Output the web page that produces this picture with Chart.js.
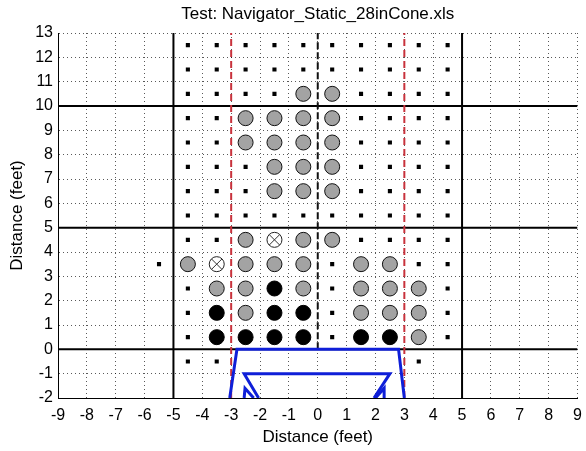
<!DOCTYPE html>
<html>
<head>
<meta charset="utf-8">
<script src="https://cdn.jsdelivr.net/npm/chart.js@4/dist/chart.umd.min.js"></script>
<style>
  body { margin: 0; background: #fff; }
  #wrap { width: 586px; height: 451px; }
</style>
</head>
<body>
<div id="wrap"><canvas id="chart" width="586" height="451"></canvas></div>
<script>
'use strict';

// marker columns (feet) and rows (feet)
var colX = [-5.5, -4.5, -3.5, -2.5, -1.5, -0.5, 0.5, 1.5, 2.5, 3.5, 4.5];
var rowY = [12.5, 11.5, 10.5, 9.5, 8.5, 7.5, 6.5, 5.5, 4.5, 3.5, 2.5, 1.5, 0.5, -0.5];

// s = small square, g = grey circle, b = black circle, x = crossed circle, . = nothing
var rowCodes = [
  '.ssssssssss',
  '.ssssssssss',
  '.ssssggssss',
  '.ssggggssss',
  '.ssggggssss',
  '.sssgggssss',
  '.sssgggssss',
  '.ssssssssss',
  '.ssgxggssss',
  'sgxgggsggss',
  '.sggbgsggg s'.replace(' ', ''),
  '.sbgbbsggg s'.replace(' ', ''),
  '.sbbbbsbbgs',
  '.ss......s.'
];

var xTicks = [-9, -8, -7, -6, -5, -4, -3, -2, -1, 0, 1, 2, 3, 4, 5, 6, 7, 8, 9];
var yTicks = [-2, -1, 0, 1, 2, 3, 4, 5, 6, 7, 8, 9, 10, 11, 12, 13];

var solidVert = [-5, 5];
var solidHoriz = [0, 5, 10];
var redDashX = [-3, 3];
var centerDashX = [0];

// vehicle outline
var blueOuter = [[-3.05, -2], [-2.8, 0], [2.8, 0], [3.0, -2]];
var blueInner = [[-2.05, -2], [-2.55, -1], [2.5, -1], [1.95, -2]];
var blueLeftMark = [[-2.55, -2], [-2.52, -1.6], [-2.22, -2]];
var blueRightMark = [[2.0, -2], [2.3, -1.6], [2.3, -2]];

var titleText = 'Test: Navigator_Static_28inCone.xls';

var squares = [], greys = [], blacks = [], crossed = [];
for (var r = 0; r < rowY.length; r++) {
  for (var c = 0; c < colX.length; c++) {
    var code = rowCodes[r].charAt(c);
    var p = {x: colX[c], y: rowY[r]};
    if (code === 's') squares.push(p);
    else if (code === 'g') greys.push(p);
    else if (code === 'b') blacks.push(p);
    else if (code === 'x') crossed.push(p);
  }
}

function pts(arr) {
  return arr.map(function (a) { return {x: a[0], y: a[1]}; });
}

var datasets = [];

function lineSet(data, color, width, dash, order) {
  datasets.push({
    data: data, showLine: true, borderColor: color, borderWidth: width,
    borderDash: dash, pointRadius: 0, fill: false, order: order
  });
}

// blue outline on top
[blueOuter, blueInner, blueLeftMark, blueRightMark].forEach(function (l) {
  lineSet(pts(l), '#0f1fd8', 3, [], 0);
});

datasets.push({data: squares, pointStyle: 'rect', pointRadius: 2.9, backgroundColor: '#000', borderColor: '#000', borderWidth: 0, order: 1});
datasets.push({data: greys, pointStyle: 'circle', pointRadius: 7.5, backgroundColor: '#a3a3a3', borderColor: '#111', borderWidth: 1, order: 1});
datasets.push({data: blacks, pointStyle: 'circle', pointRadius: 7.5, backgroundColor: '#000', borderColor: '#000', borderWidth: 1, order: 1});
datasets.push({data: crossed, pointStyle: 'crossRot', pointRadius: 7.3, backgroundColor: '#000', borderColor: '#333', borderWidth: 1, order: 1});
datasets.push({data: crossed, pointStyle: 'circle', pointRadius: 7.5, backgroundColor: '#fff', borderColor: '#222', borderWidth: 1, order: 2});

redDashX.forEach(function (x) {
  lineSet([{x: x, y: -2}, {x: x, y: 13}], '#c8323c', 2, [7, 4], 3);
});
centerDashX.forEach(function (x) {
  lineSet([{x: x, y: 0}, {x: x, y: 13}], '#111', 2, [7, 3], 3);
});
solidVert.forEach(function (x) {
  lineSet([{x: x, y: -2}, {x: x, y: 13}], '#000', 2, [], 4);
});
solidHoriz.forEach(function (y) {
  lineSet([{x: -9, y: y}, {x: 9, y: y}], '#000', 2, [], 4);
});

var fontFam = "Arial, 'Liberation Sans', sans-serif";

// title centred over the plot area, like the original
var axesTitle = {
  id: 'axesTitle',
  afterDraw: function (chart) {
    var c = chart.ctx, a = chart.chartArea;
    c.save();
    c.font = '17px ' + fontFam;
    c.fillStyle = '#000';
    c.textAlign = 'center';
    c.textBaseline = 'middle';
    c.fillText(titleText, (a.left + a.right) / 2, 14);
    c.restore();
  }
};

var ctx = document.getElementById('chart').getContext('2d');
var chart = new Chart(ctx, {
  type: 'scatter',
  data: {datasets: datasets},
  plugins: [axesTitle],
  options: {
    responsive: false,
    animation: false,
    layout: {padding: {left: 0, right: 5, top: 33, bottom: 0}},
    plugins: {
      legend: {display: false},
      tooltip: {enabled: false},
      title: {display: false}
    },
    scales: {
      x: {
        type: 'linear', min: -9, max: 9,
        afterBuildTicks: function (s) { s.ticks = xTicks.map(function (v) { return {value: v}; }); },
        afterFit: function (s) { s.height = 53; s.paddingLeft = 0; s.paddingRight = 0; },
        ticks: {color: '#000', padding: 8, font: {family: fontFam, size: 16}},
        grid: {color: 'rgba(0,0,0,0.65)', lineWidth: 1, drawTicks: false},
        border: {display: true, color: '#000', width: 1, dash: [1, 3]},
        title: {display: true, text: 'Distance (feet)', color: '#000', font: {family: fontFam, size: 17}, padding: {top: 0, bottom: 3}}
      },
      y: {
        type: 'linear', min: -2, max: 13,
        afterBuildTicks: function (s) { s.ticks = yTicks.map(function (v) { return {value: v}; }); },
        afterFit: function (s) { s.width = 58; s.paddingTop = 0; s.paddingBottom = 0; },
        ticks: {color: '#000', padding: 5, font: {family: fontFam, size: 16}},
        grid: {color: 'rgba(0,0,0,0.65)', lineWidth: 1, drawTicks: false},
        border: {display: true, color: '#000', width: 1, dash: [1, 3]},
        title: {display: true, text: 'Distance (feet)', color: '#000', font: {family: fontFam, size: 17}, padding: {top: 7, bottom: 0}}
      }
    }
  }
});
</script>
</body>
</html>
